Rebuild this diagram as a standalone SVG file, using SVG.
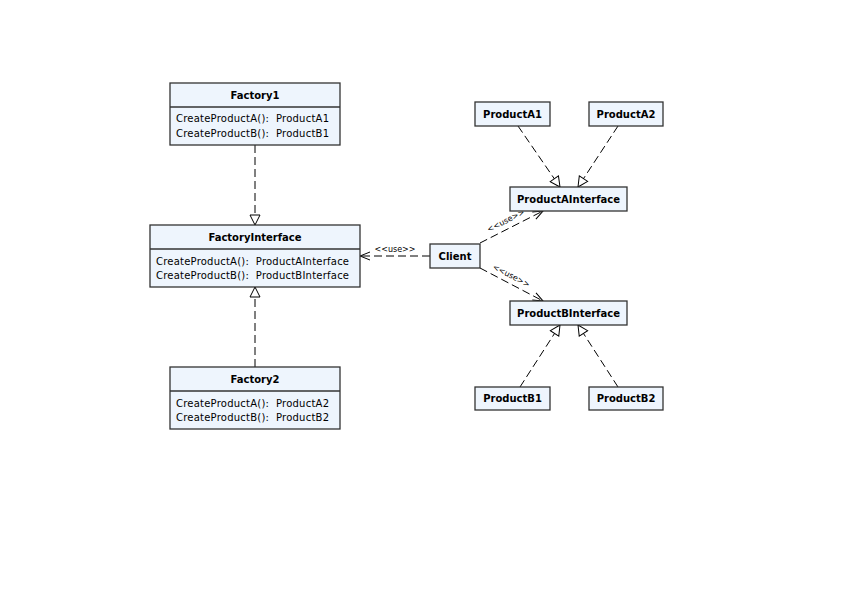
<svg xmlns="http://www.w3.org/2000/svg" width="842" height="595" viewBox="0 0 842 595">
<defs>
<marker id="tri" markerWidth="12" markerHeight="12" refX="11" refY="6" orient="auto" markerUnits="userSpaceOnUse">
<path d="M1,1 L11,6 L1,11 Z" fill="#ffffff" stroke="#000" stroke-width="1"/>
</marker>
<marker id="open" markerWidth="12" markerHeight="12" refX="11" refY="6" orient="auto" markerUnits="userSpaceOnUse">
<path d="M1,2 L11,6 L1,10" fill="none" stroke="#000" stroke-width="1"/>
</marker>
</defs>
<style>
.box{fill:#eef5fd;stroke:#333;stroke-width:1.3}
.div{stroke:#333;stroke-width:1.3}
.name{font-family:"DejaVu Sans",sans-serif;font-size:10px;font-weight:bold;fill:#000;text-anchor:middle}
.attr{font-family:"DejaVu Sans",sans-serif;font-size:10px;fill:#000;white-space:pre}
.lbl{font-family:"DejaVu Sans",sans-serif;font-size:8px;fill:#000;text-anchor:middle}
.dash{fill:none;stroke:#000;stroke-width:1;stroke-dasharray:8,4}
</style>
<rect width="842" height="595" fill="#ffffff"/>
<g id="connectors">
<line class="dash" x1="255" y1="145" x2="255" y2="225" marker-end="url(#tri)"/>
<line class="dash" x1="255" y1="367" x2="255" y2="287" marker-end="url(#tri)"/>
<line class="dash" x1="430" y1="256" x2="360" y2="256" marker-end="url(#open)"/>
<text class="lbl" x="395" y="252">&lt;&lt;use&gt;&gt;</text>
<line class="dash" x1="480" y1="243" x2="543" y2="211" marker-end="url(#open)"/>
<text class="lbl" transform="translate(507,223) rotate(-27)">&lt;&lt;use&gt;&gt;</text>
<line class="dash" x1="480" y1="268" x2="543" y2="301" marker-end="url(#open)"/>
<text class="lbl" transform="translate(510,278) rotate(28)">&lt;&lt;use&gt;&gt;</text>
<line class="dash" x1="518" y1="126" x2="560" y2="187" marker-end="url(#tri)"/>
<line class="dash" x1="618" y1="126" x2="578" y2="187" marker-end="url(#tri)"/>
<line class="dash" x1="520" y1="387" x2="560" y2="325" marker-end="url(#tri)"/>
<line class="dash" x1="618" y1="387" x2="578" y2="325" marker-end="url(#tri)"/>
</g>
<g id="Factory1">
<rect class="box" x="170" y="83" width="170" height="62"/>
<line class="div" x1="170" y1="107" x2="340" y2="107"/>
<text class="name" x="255" y="99">Factory1</text>
<text class="attr" xml:space="preserve" x="176" y="122" textLength="153" lengthAdjust="spacing">CreateProductA():  ProductA1</text>
<text class="attr" xml:space="preserve" x="176" y="137" textLength="153" lengthAdjust="spacing">CreateProductB():  ProductB1</text>
</g>
<g id="FactoryInterface">
<rect class="box" x="150" y="225" width="210" height="62"/>
<line class="div" x1="150" y1="249" x2="360" y2="249"/>
<text class="name" x="255" y="241">FactoryInterface</text>
<text class="attr" xml:space="preserve" x="156" y="265" textLength="193" lengthAdjust="spacing">CreateProductA():  ProductAInterface</text>
<text class="attr" xml:space="preserve" x="156" y="279" textLength="193" lengthAdjust="spacing">CreateProductB():  ProductBInterface</text>
</g>
<g id="Factory2">
<rect class="box" x="170" y="367" width="170" height="62"/>
<line class="div" x1="170" y1="391" x2="340" y2="391"/>
<text class="name" x="255" y="383">Factory2</text>
<text class="attr" xml:space="preserve" x="176" y="407" textLength="153" lengthAdjust="spacing">CreateProductA():  ProductA2</text>
<text class="attr" xml:space="preserve" x="176" y="421" textLength="153" lengthAdjust="spacing">CreateProductB():  ProductB2</text>
</g>
<g id="Client">
<rect class="box" x="430" y="244" width="50" height="24"/>
<text class="name" x="455" y="260">Client</text>
</g>
<g id="ProductA1">
<rect class="box" x="475" y="102" width="75" height="24"/>
<text class="name" x="512.5" y="118">ProductA1</text>
</g>
<g id="ProductA2">
<rect class="box" x="589" y="102" width="74" height="24"/>
<text class="name" x="626" y="118">ProductA2</text>
</g>
<g id="ProductAInterface">
<rect class="box" x="510" y="187" width="117" height="24"/>
<text class="name" x="568.5" y="203">ProductAInterface</text>
</g>
<g id="ProductBInterface">
<rect class="box" x="510" y="301" width="117" height="24"/>
<text class="name" x="568.5" y="317">ProductBInterface</text>
</g>
<g id="ProductB1">
<rect class="box" x="475" y="387" width="75" height="23"/>
<text class="name" x="512.5" y="402">ProductB1</text>
</g>
<g id="ProductB2">
<rect class="box" x="589" y="387" width="74" height="23"/>
<text class="name" x="626" y="402">ProductB2</text>
</g>
</svg>
